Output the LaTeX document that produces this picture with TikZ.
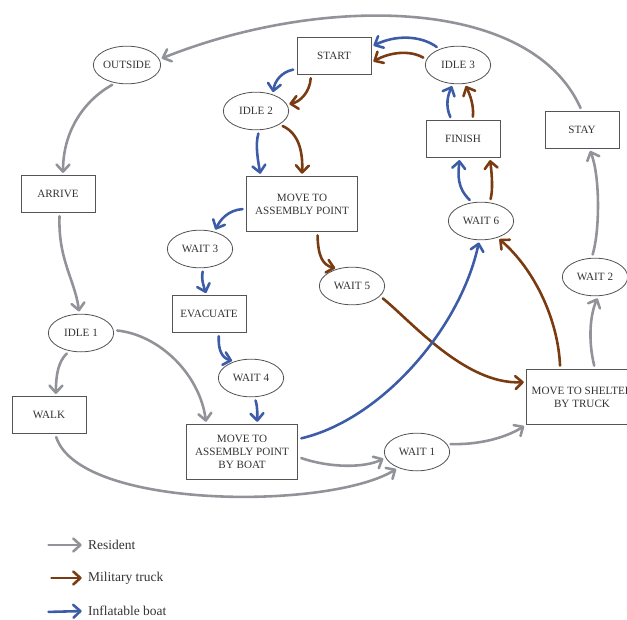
\documentclass[tikz,border=0pt]{standalone}
\usepackage{fontspec}
\setmainfont{Liberation Serif}
\usepackage{xcolor}
\usetikzlibrary{arrows.meta, shapes.geometric}
\definecolor{residentcolor}{RGB}{145,147,153}
\definecolor{truckcolor}{RGB}{122,58,18}
\definecolor{boatcolor}{RGB}{60,92,168}
\definecolor{framecolor}{RGB}{85,85,85}

\begin{document}
\begin{tikzpicture}[
  x=0.03cm, y=-0.03cm,
  state/.style={draw=framecolor, line width=0.7pt, minimum width=2.22cm,
                minimum height=1.1cm, align=center, text=black!80,
                font=\fontsize{9.5}{11}\selectfont},
  bigstate/.style={state, minimum width=3.33cm, minimum height=1.65cm},
  idle/.style={state, ellipse, inner sep=0pt, minimum width=1.96cm,
               minimum height=1.13cm},
  flow/.style={line width=2.2pt, line cap=round, shorten <=3pt, shorten >=2pt,
               -{Straight Barb[round, length=6pt, width=11pt]}},
  res/.style={flow, residentcolor},
  truck/.style={flow, truckcolor},
  boat/.style={flow, boatcolor},
  legend/.style={anchor=west, font=\fontsize{11.5}{13}\selectfont, text=black!80}
]
\useasboundingbox (0,0) rectangle (627,619);

\node[idle] (outside) at (127,65) {OUTSIDE};
\node[state] (start) at (334,56) {START};
\node[idle] (idle3) at (458,65) {IDLE 3};
\node[idle] (idle2) at (256,111) {IDLE 2};
\node[bigstate] (assembly) at (302,204) {MOVE TO\\ASSEMBLY POINT};
\node[state] (finish) at (463,139) {FINISH};
\node[state] (stay) at (582,130) {STAY};
\node[idle] (wait6) at (481,221) {WAIT 6};
\node[state] (arrive) at (58,194) {ARRIVE};
\node[idle] (wait3) at (200,249) {WAIT 3};
\node[state] (evacuate) at (209,314) {EVACUATE};
\node[idle] (wait5) at (352,286) {WAIT 5};
\node[idle] (wait2) at (595,277) {WAIT 2};
\node[idle] (idle1) at (81,333) {IDLE 1};
\node[idle] (wait4) at (251,378) {WAIT 4};
\node[state] (walk) at (49,415) {WALK};
\node[bigstate] (boatmove) at (242,452) {MOVE TO\\ASSEMBLY POINT\\BY BOAT};
\node[bigstate] (shelter) at (582,397) {MOVE TO SHELTER\\BY TRUCK};
\node[idle] (wait1) at (417,452) {WAIT 1};

\draw[res] (stay.north) .. controls (530,-5) and (320,-5) .. (outside.10);
\draw[res] (outside.237) .. controls (85,100) and (63,130) .. (arrive.75);
\draw[res] (arrive.-85) .. controls (58,260) and (75,280) .. (idle1.95);
\draw[res] (idle1.237) .. controls (58,362) and (56,375) .. (walk.70);
\draw[res] (idle1.5) .. controls (160,335) and (200,375) .. (boatmove.142);
\draw[res] (walk.-72) .. controls (80,510) and (330,510) .. (wait1.220);
\draw[res] (boatmove.-5) .. controls (330,468) and (365,468) .. (wait1.190);
\draw[res] (wait1.15) .. controls (485,445) and (510,435) .. (shelter.south west);
\draw[res] (shelter.65) .. controls (588,340) and (590,315) .. (wait2.-80);
\draw[res] (wait2.100) .. controls (600,230) and (600,175) .. (stay.-69);

\draw[truck] (idle3.170) .. controls (410,50) and (390,52) .. (start.-10);
\draw[truck] (start.219) .. controls (310,92) and (300,102) .. (idle2.12);
\draw[truck] (idle2.-30) .. controls (298,133) and (303,150) .. (assembly.north);
\draw[truck] (assembly.-61) .. controls (318,255) and (322,265) .. (wait5.130);
\draw[truck] (wait5.-20) .. controls (410,320) and (465,385) .. (shelter.165);
\draw[truck] (shelter.128) .. controls (558,320) and (535,270) .. (wait6.-45);
\draw[truck] (wait6.65) .. controls (493,190) and (492,175) .. (finish.-35);
\draw[truck] (finish.63) .. controls (474,105) and (470,95) .. (idle3.-70);

\draw[boat] (idle3.139) .. controls (420,35) and (395,35) .. (start.14);
\draw[boat] (start.199) .. controls (282,72) and (275,80) .. (idle2.45);
\draw[boat] (idle2.-80) .. controls (255,145) and (258,160) .. (assembly.146);
\draw[boat] (assembly.185) .. controls (228,210) and (220,220) .. (wait3.50);
\draw[boat] (wait3.-80) .. controls (201,280) and (204,287) .. (evacuate.97);
\draw[boat] (evacuate.-62) .. controls (218,350) and (222,358) .. (wait4.135);
\draw[boat] (wait4.-80) .. controls (258,408) and (257,415) .. (boatmove.61);
\draw[boat] (boatmove.13) .. controls (380,420) and (460,330) .. (wait6.-95);
\draw[boat] (wait6.115) .. controls (457,188) and (458,175) .. (finish.-100);
\draw[boat] (finish.121) .. controls (445,105) and (448,95) .. (idle3.-105);

\coordinate (kres) at (45,545);
\coordinate (ktruck) at (48,578);
\coordinate (kboat) at (45,612);
\node[legend] (lres) at (84,545) {Resident};
\node[legend] (ltruck) at (84,578) {Military truck};
\node[legend] (lboat) at (84,611) {Inflatable boat};
\draw[res] (kres) -- (lres.west);
\draw[truck] (ktruck) -- (ltruck.west);
\draw[boat] (kboat) -- (lboat.west);
\end{tikzpicture}
\end{document}
